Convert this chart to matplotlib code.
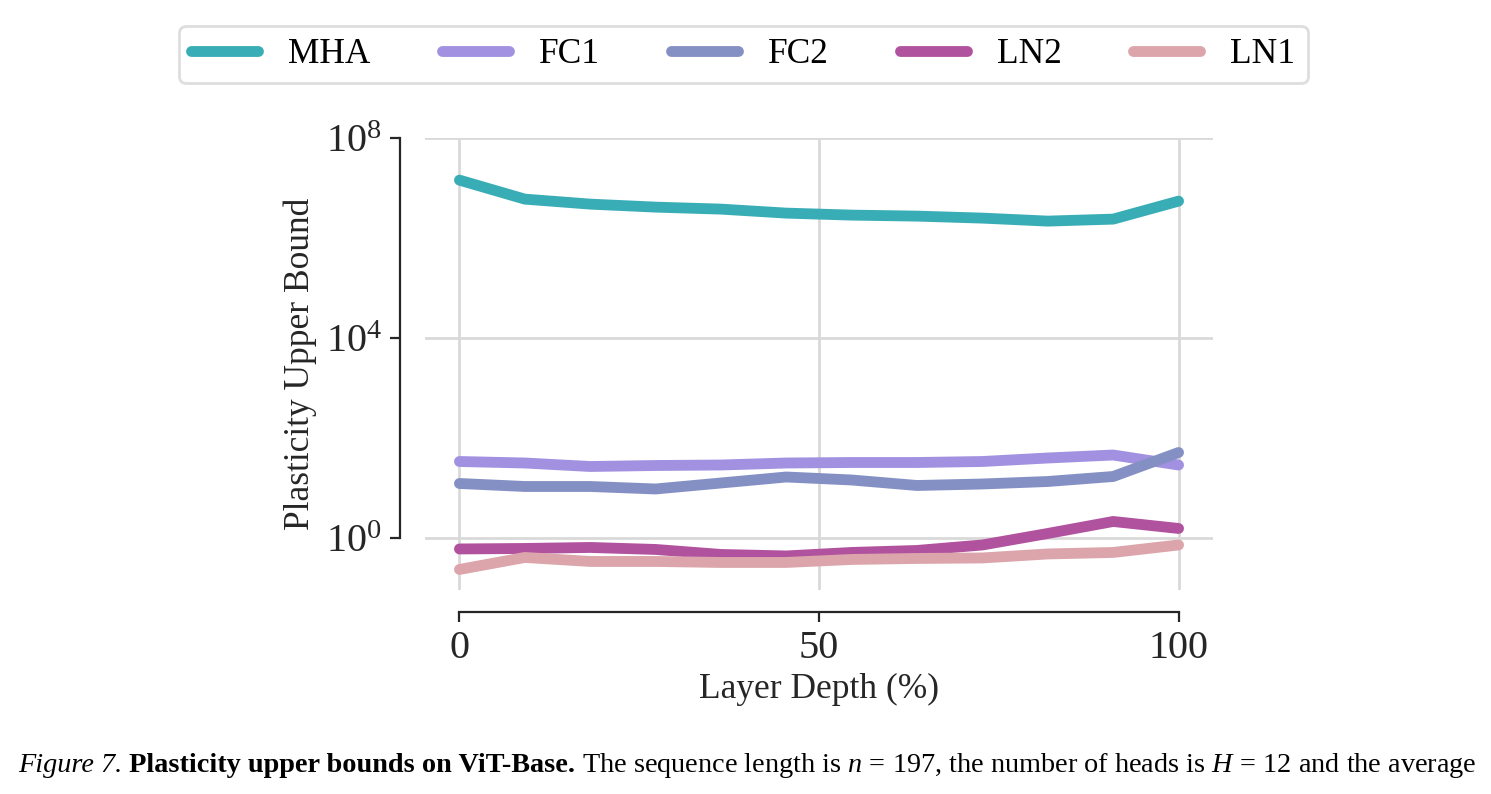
import numpy as np
import matplotlib
matplotlib.use('Agg')
import matplotlib.pyplot as plt

#---------------------------------------------------------#
# Data (log10 of the plasticity upper bound, per layer)
#---------------------------------------------------------#
depth = np.linspace(0, 100, 12)
series = ['MHA', 'FC1', 'FC2', 'LN2', 'LN1']
colors = ['#39adb6', '#a191e0', '#8490c4', '#b1529f', '#dba5ab']

log_mha = [7.16, 6.78, 6.68, 6.62, 6.58, 6.50, 6.46, 6.44, 6.40, 6.34, 6.38, 6.74]
log_fc1 = [1.53, 1.50, 1.43, 1.45, 1.46, 1.50, 1.51, 1.51, 1.53, 1.60, 1.66, 1.46]
log_fc2 = [1.09, 1.03, 1.03, 0.98, 1.10, 1.22, 1.16, 1.05, 1.08, 1.13, 1.23, 1.71]
log_ln2 = [-0.22, -0.21, -0.19, -0.23, -0.33, -0.36, -0.29, -0.25, -0.14, 0.09, 0.33, 0.19]
log_ln1 = [-0.63, -0.39, -0.47, -0.47, -0.49, -0.49, -0.43, -0.41, -0.40, -0.32, -0.29, -0.14]
values = [log_mha, log_fc1, log_fc2, log_ln2, log_ln1]

#---------------------------------------------------------#
# Style
#---------------------------------------------------------#
plt.rcParams['font.family'] = ['Liberation Serif', 'DejaVu Serif']
plt.rcParams['mathtext.fontset'] = 'custom'
plt.rcParams['mathtext.rm'] = 'Liberation Serif'
plt.rcParams['mathtext.it'] = 'Liberation Serif:italic'
plt.rcParams['mathtext.bf'] = 'Liberation Serif:bold'

fig = plt.figure(figsize=(14.91, 7.94), dpi=100)
ax = fig.add_axes([0.285, 0.257, 0.5286, 0.569])

for name, col, v in zip(series, colors, values):
    ax.plot(depth, 10.0 ** np.array(v), color=col, lw=7.8, label=name,
            solid_capstyle='round', solid_joinstyle='round')

ax.set_yscale('log')
ax.set_ylim(10 ** -1.04, 1e8)
ax.set_xlim(-4.8, 104.8)
ax.set_yticks([1e0, 1e4, 1e8])
ax.yaxis.set_minor_locator(matplotlib.ticker.NullLocator())
ax.set_xticks([0, 50, 100])
ax.grid(True, color='#d9d9d9', lw=2)
ax.set_axisbelow(True)

# seaborn-like despine(offset, trim)
for s in ['top', 'right']:
    ax.spines[s].set_visible(False)
ax.spines['left'].set_position(('outward', 18))
ax.spines['bottom'].set_position(('outward', 16))
ax.spines['left'].set_bounds(1e0, 1e8)
ax.spines['bottom'].set_bounds(0, 100)
for s in ['left', 'bottom']:
    ax.spines[s].set_linewidth(1.6)
    ax.spines[s].set_color('#262626')
ax.tick_params(axis='both', which='major', length=7, width=1.6, color='#262626',
               labelsize=29, labelcolor='#262626', pad=6)

ax.set_xlabel('Layer Depth (%)', fontsize=25.5, color='#262626', labelpad=4)
ax.set_ylabel('Plasticity Upper Bound', fontsize=25.5, color='#262626', labelpad=6)

leg = fig.legend(loc='upper center', bbox_to_anchor=(0.4985, 0.99), ncol=5,
                 fontsize=25.5, frameon=True, fancybox=True, handlelength=1.9,
                 columnspacing=2.0, handletextpad=0.85, borderpad=0.35)
leg.get_frame().set_edgecolor('#d6d6d6')
leg.get_frame().set_linewidth(2)
for h in leg.get_lines():
    h.set_linewidth(7.8)
    h.set_solid_capstyle('round')

#---------------------------------------------------------#
# Caption (three styles on one line)
#---------------------------------------------------------#
parts = [('Figure 7.', 'italic', 'normal'),
         (' Plasticity upper bounds on ViT-Base.', 'normal', 'bold'),
         (' The sequence length is $n\\,=\\,197$, the number of heads is '
          '$H\\,=\\,12$ and the average', 'normal', 'normal')]
renderer = fig.canvas.get_renderer()
x0 = 18 / 1491
for txt, style, weight in parts:
    t = fig.text(x0, 1 - 765 / 794, txt, fontsize=20.3, style=style,
                 weight=weight, va='center', ha='left', color='black')
    bb = t.get_window_extent(renderer=renderer)
    x0 = bb.x1 / fig.bbox.width

fig.savefig('out.png', dpi=100)
